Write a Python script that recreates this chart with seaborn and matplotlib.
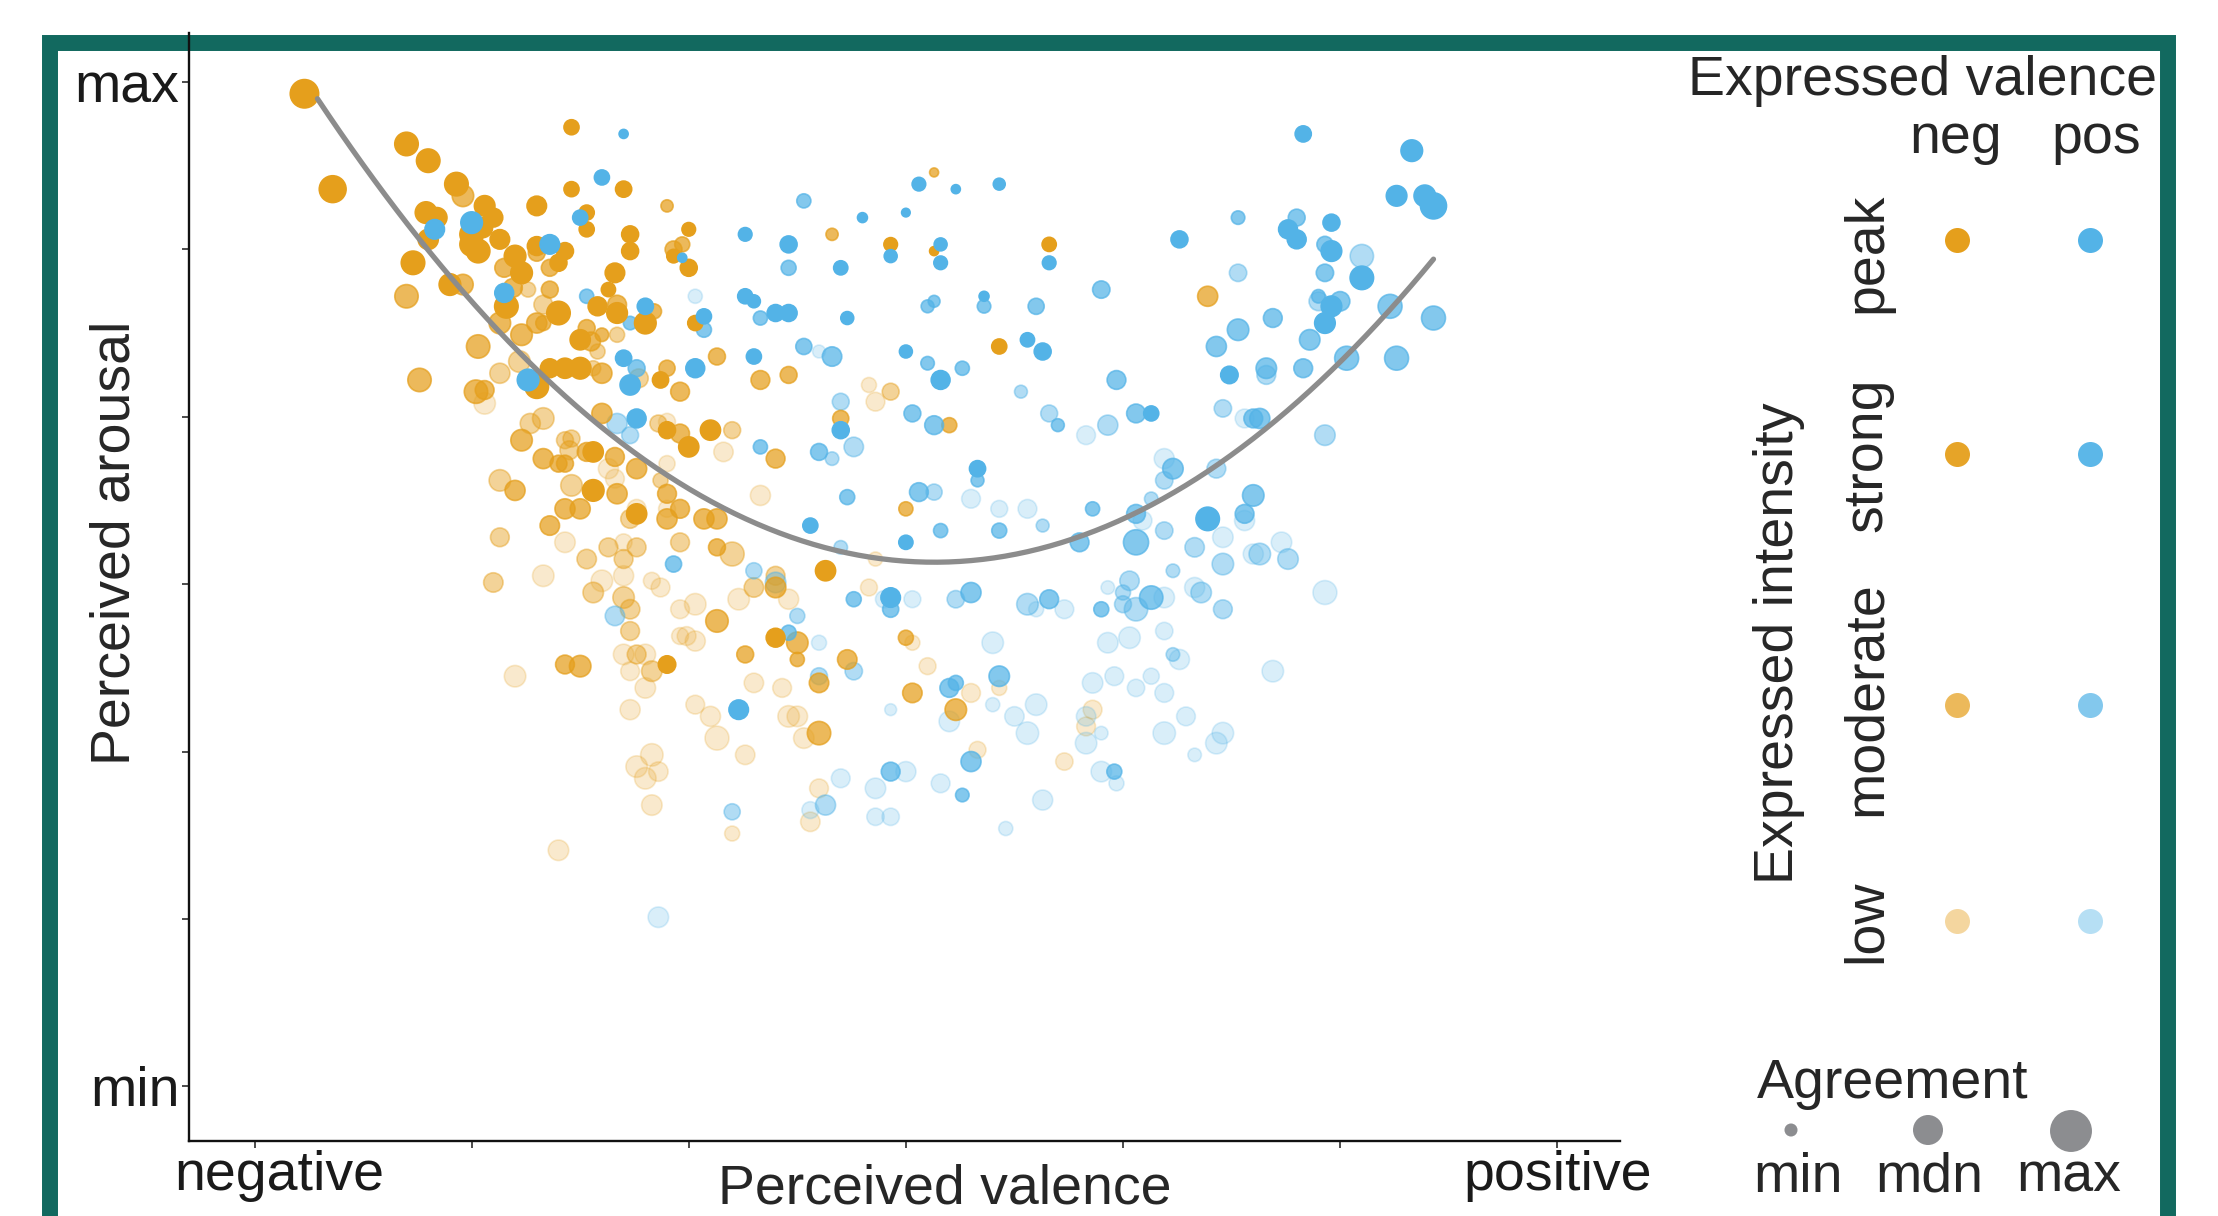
import pandas as pd
import seaborn as sns
import matplotlib.pyplot as plt
from matplotlib.patches import Rectangle
from matplotlib.transforms import ScaledTranslation

# perceived valence: 0 = negative ... 6 = positive
# perceived arousal: 0 = min ... 6 = max
# agreement: 0 = min ... 1 = max

# expressed negative, peak intensity
neg_peak_val = [0.23, 0.36, 0.70, 0.80, 0.93, 1.46, 1.46, 1.70, 1.30, 1.06,
                0.79, 0.84, 1.10, 1.53, 0.80, 1.53, 2.00, 1.00, 1.05, 1.73,
                1.13, 1.00, 1.03, 1.30, 1.43, 1.73, 1.93, 0.73, 1.20, 1.40,
                1.23, 1.66, 2.00, 0.90, 1.63, 1.16, 1.40, 1.58, 1.67, 1.80,
                2.03, 1.50, 1.36, 1.43, 1.50, 1.30, 1.87, 1.90, 2.00, 1.56,
                1.56, 2.93, 3.13, 3.66, 3.43, 2.10, 1.76, 1.90, 2.63, 2.40]
neg_peak_aro = [5.93, 5.36, 5.63, 5.53, 5.39, 5.73, 5.36, 5.36, 5.26, 5.26,
                5.22, 5.19, 5.19, 5.22, 5.06, 5.12, 5.12, 5.09, 5.13, 5.09,
                5.06, 5.03, 4.99, 5.02, 4.99, 4.99, 4.96, 4.92, 4.96, 4.92,
                4.86, 4.86, 4.89, 4.79, 4.76, 4.66, 4.62, 4.66, 4.62, 4.56,
                4.56, 4.46, 4.29, 4.29, 4.29, 4.18, 4.22, 3.92, 3.82, 3.79,
                3.56, 5.03, 4.99, 5.03, 4.42, 3.92, 3.42, 2.52, 3.08, 2.68]
neg_peak_agr = [0.90, 0.80, 0.60, 0.60, 0.60, 0.22, 0.22, 0.26, 0.40, 0.45,
                0.50, 0.43, 0.37, 0.22, 0.43, 0.22, 0.17, 0.60, 0.43, 0.29,
                0.40, 0.60, 0.60, 0.37, 0.29, 0.29, 0.17, 0.60, 0.50, 0.29,
                0.50, 0.40, 0.29, 0.50, 0.19, 0.60, 0.60, 0.37, 0.45, 0.50,
                0.22, 0.43, 0.37, 0.43, 0.50, 0.60, 0.26, 0.29, 0.43, 0.43,
                0.50, 0.17, 0.05, 0.19, 0.22, 0.43, 0.43, 0.31, 0.43, 0.37]

# expressed negative, strong intensity
neg_strong_val = [0.96, 1.90, 1.93, 1.97, 1.30, 1.36, 1.15, 0.96, 0.70, 1.19,
                  1.36, 1.67, 1.84, 1.13, 1.30, 1.33, 1.23, 1.53, 1.60, 1.55,
                  1.03, 1.60, 1.90, 1.96, 0.76, 1.02, 1.06, 1.60, 1.96, 1.23,
                  1.53, 1.66, 1.33, 1.40, 1.43, 1.76, 1.20, 1.67, 1.90, 3.13,
                  2.66, 2.13, 2.33, 2.46, 2.70, 3.20, 2.40, 4.39, 1.43, 1.50,
                  1.96, 1.90, 1.36, 1.43, 1.50, 2.07, 2.13, 3.00, 2.13, 2.40,
                  2.13, 2.50, 2.50, 2.26, 2.73, 3.00, 2.60, 3.03, 3.23, 2.60]
neg_strong_aro = [5.32, 5.26, 5.00, 5.03, 4.98, 4.89, 4.89, 4.79, 4.72, 4.77,
                  4.76, 4.67, 4.63, 4.56, 4.56, 4.56, 4.49, 4.53, 4.49, 4.45,
                  4.42, 4.26, 4.29, 4.15, 4.22, 4.15, 4.16, 4.02, 3.90, 3.86,
                  3.79, 3.76, 3.75, 3.72, 3.72, 3.69, 3.56, 3.54, 3.54, 5.46,
                  5.09, 4.36, 4.22, 4.25, 3.99, 3.95, 3.75, 4.72, 3.45, 3.45,
                  3.45, 3.39, 3.35, 2.52, 2.51, 3.39, 3.39, 3.45, 3.22, 2.98,
                  2.78, 2.65, 2.55, 2.58, 2.55, 2.68, 2.41, 2.35, 2.25, 2.11]
neg_strong_agr = [0.50, 0.13, 0.29, 0.22, 0.29, 0.29, 0.37, 0.45, 0.60, 0.37,
                  0.29, 0.37, 0.22, 0.50, 0.43, 0.22, 0.50, 0.29, 0.17, 0.37,
                  0.60, 0.43, 0.26, 0.37, 0.60, 0.60, 0.37, 0.43, 0.37, 0.50,
                  0.37, 0.37, 0.43, 0.29, 0.29, 0.43, 0.43, 0.43, 0.37, 0.05,
                  0.13, 0.29, 0.37, 0.29, 0.26, 0.22, 0.37, 0.43, 0.43, 0.43,
                  0.37, 0.43, 0.40, 0.37, 0.50, 0.43, 0.43, 0.19, 0.29, 0.45,
                  0.55, 0.50, 0.19, 0.29, 0.40, 0.22, 0.40, 0.40, 0.50, 0.60]

# expressed negative, moderate intensity
neg_moderate_val = [1.26, 1.33, 1.67, 1.58, 1.56, 1.22, 1.13, 1.77, 1.86, 1.33,
                    1.27, 1.43, 1.46, 1.45, 1.87, 1.13, 1.46, 1.73, 1.13, 1.63,
                    1.76, 1.96, 1.53, 1.70, 1.10, 1.56, 1.70, 1.73, 1.73, 1.76,
                    1.83, 2.93, 2.20, 2.20, 2.40, 2.30]
neg_moderate_aro = [4.76, 4.67, 4.49, 4.39, 4.29, 4.33, 4.26, 4.23, 3.96, 3.99,
                    3.96, 3.86, 3.87, 3.80, 3.62, 3.62, 3.59, 3.39, 3.28, 3.22,
                    3.22, 3.25, 3.15, 3.15, 3.01, 2.95, 2.92, 2.85, 2.72, 2.58,
                    2.48, 4.15, 3.92, 3.18, 3.05, 2.98]
neg_moderate_agr = [0.22, 0.37, 0.22, 0.22, 0.22, 0.50, 0.43, 0.37, 0.29, 0.50,
                    0.43, 0.29, 0.29, 0.37, 0.22, 0.50, 0.50, 0.37, 0.37, 0.37,
                    0.37, 0.37, 0.40, 0.37, 0.40, 0.45, 0.50, 0.40, 0.37, 0.37,
                    0.45, 0.29, 0.29, 0.63, 0.37, 0.40]

# expressed negative, low intensity
neg_low_val = [1.06, 1.90, 1.63, 1.90, 1.66, 2.83, 2.86, 2.16, 2.33, 1.76,
               1.90, 1.43, 1.70, 1.33, 1.60, 1.70, 1.83, 1.87, 1.96, 2.03,
               1.96, 1.99, 2.03, 1.70, 1.80, 1.73, 1.20, 1.80, 1.73, 2.03,
               1.83, 1.76, 1.86, 1.80, 1.83, 1.40, 2.86, 2.23, 2.46, 2.83,
               3.03, 3.10, 2.30, 2.43, 3.43, 3.30, 3.86, 3.83, 2.10, 2.13,
               2.46, 2.50, 2.53, 2.26, 3.33, 3.73, 2.60, 2.56, 2.20]
neg_low_aro = [4.08, 3.97, 3.69, 3.72, 3.63, 4.19, 4.09, 3.79, 3.53, 3.45,
               3.45, 3.25, 3.25, 3.05, 3.02, 3.05, 3.02, 2.98, 2.85, 2.88,
               2.69, 2.69, 2.66, 2.58, 2.58, 2.48, 2.45, 2.38, 2.25, 2.28,
               1.98, 1.91, 1.88, 1.84, 1.68, 1.41, 3.15, 2.91, 2.91, 2.98,
               2.65, 2.51, 2.41, 2.38, 2.38, 2.35, 2.25, 2.15, 2.21, 2.08,
               2.21, 2.21, 2.08, 1.98, 2.01, 1.94, 1.78, 1.58, 1.51]
neg_low_agr = [0.50, 0.29, 0.43, 0.26, 0.37, 0.22, 0.37, 0.40, 0.43, 0.37,
               0.29, 0.45, 0.29, 0.50, 0.50, 0.43, 0.29, 0.37, 0.37, 0.50,
               0.29, 0.37, 0.43, 0.45, 0.45, 0.37, 0.50, 0.45, 0.43, 0.37,
               0.55, 0.50, 0.40, 0.50, 0.45, 0.45, 0.19, 0.50, 0.43, 0.29,
               0.22, 0.29, 0.40, 0.37, 0.22, 0.37, 0.37, 0.37, 0.43, 0.63,
               0.50, 0.45, 0.45, 0.40, 0.29, 0.31, 0.37, 0.40, 0.22]

# expressed positive, peak intensity
pos_peak_val = [1.70, 1.60, 1.00, 1.50, 0.83, 1.36, 1.97, 1.15, 1.80, 1.70,
                2.03, 1.26, 1.73, 1.76, 3.06, 3.23, 3.43, 2.80, 3.00, 2.26,
                2.46, 2.93, 3.16, 3.16, 3.66, 2.70, 2.26, 2.30, 2.40, 2.46,
                2.73, 3.36, 2.07, 2.30, 3.00, 3.16, 3.56, 3.63, 2.70, 3.33,
                4.83, 5.33, 5.26, 5.39, 5.43, 4.76, 4.80, 4.96, 4.26, 4.96,
                5.10, 4.96, 4.93, 4.49, 4.13, 2.56, 3.00, 2.93, 2.23, 4.39]
pos_peak_aro = [5.69, 5.43, 5.16, 5.19, 5.12, 5.03, 4.95, 4.74, 4.66, 4.35,
                4.29, 4.22, 4.19, 3.99, 5.39, 5.36, 5.39, 5.19, 5.22, 5.09,
                5.03, 4.96, 5.03, 4.92, 4.92, 4.89, 4.72, 4.69, 4.62, 4.62,
                4.59, 4.72, 4.60, 4.36, 4.39, 4.22, 4.46, 4.39, 3.92, 3.69,
                5.69, 5.59, 5.32, 5.32, 5.26, 5.12, 5.06, 5.16, 5.06, 4.99,
                4.83, 4.66, 4.56, 4.25, 4.02, 3.35, 3.25, 2.92, 2.25, 3.39]
pos_peak_agr = [0.05, 0.22, 0.50, 0.22, 0.40, 0.40, 0.05, 0.37, 0.26, 0.26,
                0.37, 0.50, 0.43, 0.37, 0.17, 0.05, 0.12, 0.07, 0.04, 0.17,
                0.29, 0.15, 0.15, 0.17, 0.17, 0.19, 0.22, 0.15, 0.29, 0.29,
                0.15, 0.07, 0.22, 0.22, 0.15, 0.37, 0.19, 0.29, 0.29, 0.26,
                0.26, 0.50, 0.45, 0.50, 0.75, 0.37, 0.37, 0.29, 0.29, 0.45,
                0.60, 0.45, 0.45, 0.31, 0.22, 0.22, 0.19, 0.40, 0.40, 0.60]

# expressed positive, strong intensity
pos_strong_val = [1.53, 1.73, 1.76, 2.53, 2.46, 2.33, 3.10, 3.13, 3.36, 3.60,
                  3.90, 2.07, 2.53, 2.66, 3.10, 3.26, 3.97, 3.03, 3.13, 3.70,
                  2.33, 2.60, 3.33, 3.06, 2.73, 4.53, 4.80, 4.93, 4.93, 4.90,
                  5.00, 5.23, 5.43, 4.69, 4.53, 4.43, 4.86, 5.03, 5.26, 4.66,
                  4.83, 4.06, 4.60, 4.63, 4.23, 4.60, 1.93, 3.16, 3.43, 3.86,
                  3.80, 2.76, 2.93, 3.30, 3.66, 3.90, 2.46, 3.20, 3.23, 3.43,
                  3.30, 3.96, 2.93, 3.26, 4.06, 4.56, 4.06, 4.13]
pos_strong_aro = [4.72, 4.56, 4.29, 5.29, 4.89, 4.59, 4.66, 4.69, 4.66, 4.66,
                  4.76, 4.52, 4.42, 4.36, 4.32, 4.29, 4.22, 4.02, 3.95, 3.95,
                  3.82, 3.79, 3.62, 3.55, 3.52, 5.19, 5.19, 5.03, 4.86, 4.72,
                  4.69, 4.66, 4.59, 4.59, 4.52, 4.42, 4.46, 4.35, 4.35, 4.29,
                  4.29, 4.02, 3.99, 3.99, 3.69, 3.53, 3.12, 3.32, 3.32, 3.45,
                  3.25, 2.91, 2.85, 2.95, 2.91, 2.85, 2.71, 2.38, 2.41, 2.45,
                  1.94, 1.88, 1.88, 1.74, 3.42, 3.42, 3.25, 2.92]
pos_strong_agr = [0.19, 0.17, 0.29, 0.19, 0.22, 0.19, 0.15, 0.12, 0.17, 0.26,
                  0.31, 0.22, 0.26, 0.40, 0.17, 0.19, 0.37, 0.29, 0.37, 0.15,
                  0.19, 0.29, 0.15, 0.37, 0.22, 0.17, 0.29, 0.26, 0.31, 0.17,
                  0.40, 0.63, 0.63, 0.37, 0.50, 0.43, 0.45, 0.63, 0.63, 0.45,
                  0.37, 0.37, 0.37, 0.43, 0.45, 0.50, 0.26, 0.19, 0.22, 0.19,
                  0.37, 0.22, 0.26, 0.43, 0.37, 0.22, 0.22, 0.37, 0.22, 0.45,
                  0.43, 0.22, 0.37, 0.17, 0.37, 0.37, 0.70, 0.60]

# expressed positive, moderate intensity
pos_moderate_val = [1.67, 1.73, 3.53, 2.70, 3.66, 3.93, 2.66, 2.76, 3.13, 5.10,
                    4.53, 4.90, 4.66, 4.46, 4.93, 4.19, 4.43, 4.13, 1.66, 3.63,
                    2.70, 2.30, 2.40, 3.23, 3.56, 2.50, 2.76, 2.60, 2.63, 2.20,
                    4.19, 4.33, 4.46, 4.63, 4.76, 4.23, 4.03, 4.00, 4.00, 4.06,
                    4.36, 4.46, 4.23]
pos_moderate_aro = [3.96, 3.89, 4.15, 4.09, 4.02, 3.95, 3.75, 3.82, 3.55, 4.96,
                    4.86, 4.69, 4.25, 4.05, 3.89, 3.62, 3.69, 3.51, 2.81, 3.35,
                    3.22, 3.08, 3.01, 2.91, 2.88, 2.81, 2.48, 2.45, 1.68, 1.64,
                    3.32, 3.22, 3.12, 3.18, 3.15, 3.08, 3.02, 2.95, 2.88, 2.85,
                    2.95, 2.85, 2.58]
pos_moderate_agr = [0.43, 0.29, 0.15, 0.29, 0.29, 0.43, 0.17, 0.40, 0.26, 0.60,
                    0.31, 0.37, 0.37, 0.31, 0.45, 0.31, 0.37, 0.17, 0.40, 0.15,
                    0.17, 0.26, 0.45, 0.31, 0.50, 0.22, 0.31, 0.29, 0.43, 0.26,
                    0.31, 0.40, 0.50, 0.50, 0.45, 0.17, 0.40, 0.22, 0.29, 0.60,
                    0.45, 0.37, 0.17]

# expressed positive, low intensity
pos_low_val = [2.03, 2.60, 3.83, 3.30, 4.56, 4.19, 1.86, 3.43, 3.56, 2.90,
               3.03, 3.93, 3.60, 3.73, 2.60, 3.40, 3.93, 3.86, 3.96, 2.93,
               3.20, 3.40, 3.50, 3.60, 3.56, 3.83, 3.90, 3.83, 3.90, 3.97,
               2.70, 2.86, 3.00, 3.16, 3.63, 2.56, 2.86, 2.93, 3.46, 4.09,
               4.56, 4.46, 4.60, 4.73, 4.19, 4.33, 4.93, 4.03, 4.19, 4.26,
               4.69, 4.13, 4.06, 4.19, 4.29, 4.19, 4.46, 4.43, 4.33]
pos_low_aro = [4.72, 4.39, 3.89, 3.51, 3.99, 3.75, 1.01, 3.45, 3.45, 2.91,
               2.91, 2.98, 2.85, 2.85, 2.65, 2.65, 2.65, 2.41, 2.45, 2.25,
               2.18, 2.28, 2.21, 2.28, 2.11, 2.21, 2.11, 2.05, 1.88, 1.81,
               1.84, 1.78, 1.88, 1.81, 1.71, 1.65, 1.61, 1.61, 1.54, 3.38,
               3.38, 3.28, 3.18, 3.25, 2.92, 2.98, 2.95, 2.68, 2.72, 2.55,
               2.48, 2.45, 2.38, 2.35, 2.21, 2.11, 2.11, 2.05, 1.98]
pos_low_agr = [0.19, 0.15, 0.37, 0.37, 0.37, 0.43, 0.45, 0.29, 0.37, 0.31,
               0.29, 0.17, 0.22, 0.37, 0.22, 0.50, 0.45, 0.45, 0.37, 0.12,
               0.45, 0.19, 0.40, 0.50, 0.55, 0.40, 0.17, 0.50, 0.45, 0.22,
               0.37, 0.45, 0.43, 0.37, 0.43, 0.29, 0.31, 0.31, 0.19, 0.37,
               0.43, 0.45, 0.43, 0.45, 0.45, 0.43, 0.63, 0.50, 0.31, 0.43,
               0.50, 0.26, 0.31, 0.37, 0.37, 0.55, 0.50, 0.50, 0.17]

# quadratic trend at a few valence values
curve_val = [0.29, 1.00, 2.00, 3.13, 4.00, 5.00, 5.43]
curve_aro = [5.90, 4.69, 3.57, 3.13, 3.39, 4.33, 4.94]

valence_names = ["neg", "pos"]
intensity_names = ["peak", "strong", "moderate", "low"]
agreement_names = ["min", "mdn", "max"]

groups = {
    ("neg", "peak"): (neg_peak_val, neg_peak_aro, neg_peak_agr),
    ("neg", "strong"): (neg_strong_val, neg_strong_aro, neg_strong_agr),
    ("neg", "moderate"): (neg_moderate_val, neg_moderate_aro, neg_moderate_agr),
    ("neg", "low"): (neg_low_val, neg_low_aro, neg_low_agr),
    ("pos", "peak"): (pos_peak_val, pos_peak_aro, pos_peak_agr),
    ("pos", "strong"): (pos_strong_val, pos_strong_aro, pos_strong_agr),
    ("pos", "moderate"): (pos_moderate_val, pos_moderate_aro, pos_moderate_agr),
    ("pos", "low"): (pos_low_val, pos_low_aro, pos_low_agr),
}
frames = []
for (ev, ei), (v, a, g) in groups.items():
    frames.append(pd.DataFrame({"valence": v, "arousal": a, "agreement": g,
                                "expressed": ev, "intensity": ei}))
df = pd.concat(frames, ignore_index=True)

sns.set_style("ticks")
plt.rcParams["font.family"] = ["Liberation Sans", "DejaVu Sans"]

NEG = "#E59F1C"
POS = "#53B3E7"
palette = {"neg": NEG, "pos": POS}
alpha_plot = {"low": 0.22, "moderate": 0.45, "strong": 0.72, "peak": 1.0}
alpha_key = {"low": 0.42, "moderate": 0.72, "strong": 0.95, "peak": 1.0}

W, H = 2218, 1216
fig = plt.figure(figsize=(W / 100, H / 100), dpi=100)
fig.patch.set_facecolor("white")

# teal frame around the panel (bottom edge runs off the picture)
fig.add_artist(Rectangle((50 / W, -0.1), (2168 - 50) / W, 1.1 - 42.5 / H,
                         transform=fig.transFigure, fill=False,
                         edgecolor="#12695F", linewidth=11.5, zorder=-1))

ax = fig.add_axes([188.5 / W, 75 / H, (1620 - 188.5) / W, 1108 / H])
ax.set_facecolor("none")

for level in ["low", "moderate", "strong", "peak"]:
    sub = df[df["intensity"] == level]
    sns.scatterplot(data=sub, x="valence", y="arousal", hue="expressed",
                    palette=palette, size="agreement", sizes=(20, 460),
                    size_norm=(0, 1), alpha=alpha_plot[level],
                    edgecolor="face", linewidth=1.2, legend=False, ax=ax)

sns.regplot(x=curve_val, y=curve_aro, order=2, scatter=False, ci=None,
            truncate=True, color="#8C8C8C",
            line_kws={"linewidth": 3.8, "zorder": 10}, ax=ax)

ax.set_xlim(-0.304, 6.289)
ax.set_ylim(-0.327, 6.293)
ax.set_xticks(range(7))
ax.set_xticklabels(["negative", "", "", "", "", "", "positive"])
ax.set_yticks(range(7))
ax.set_yticklabels(["min", "", "", "", "", "", "max"])
ax.set_xlabel("")
ax.set_ylabel("")
sns.despine(ax=ax)
for side in ["left", "bottom"]:
    ax.spines[side].set_linewidth(1.7)
    ax.spines[side].set_color("#111111")
ax.tick_params(length=5, width=1.1, pad=1.5, labelsize=40, colors="#1a1a1a")

# "negative" sits a little right of its tick in the original
neg_label = ax.get_xticklabels()[0]
neg_label.set_transform(neg_label.get_transform()
                        + ScaledTranslation(0.25, 0, fig.dpi_scale_trans))

# overlay in figure pixels for titles and the hand-built legend
lg = fig.add_axes([0, 0, 1, 1])
lg.set_xlim(0, W)
lg.set_ylim(H, 0)
lg.axis("off")

lg.text(945, 1203, "Perceived valence", ha="center", va="baseline", fontsize=40)
lg.text(130, 543, "Perceived arousal", rotation=90, rotation_mode="anchor",
        ha="center", va="baseline", fontsize=40)

# colour key
key_x = [1957, 2090]
key_y = [240, 454, 705, 921]
label_y = [253, 455, 699, 921]
lg.text(2157, 95, "Expressed valence", ha="right", va="baseline", fontsize=40)
for name, x, tx in zip(valence_names, key_x, [1956, 2096]):
    lg.text(tx, 153, name, ha="center", va="baseline", fontsize=40)
lg.text(1793, 643, "Expressed intensity", rotation=90, rotation_mode="anchor",
        ha="center", va="baseline", fontsize=40)
for name, y, ty in zip(intensity_names, key_y, label_y):
    lg.text(1881, ty, name, rotation=90, rotation_mode="anchor",
            ha="center", va="baseline", fontsize=40)
    for vname, x in zip(valence_names, key_x):
        lg.scatter([x], [y], s=324, color=palette[vname],
                   alpha=alpha_key[name], linewidths=0)

# agreement key
lg.text(1757, 1098, "Agreement", ha="left", va="baseline", fontsize=40)
lg.scatter([1791, 1928, 2071], [1130, 1130, 1131], s=[88, 467, 912],
           color="#8C8D90", linewidths=0)
for name, x in zip(agreement_names, [1798, 1929, 2069]):
    lg.text(x, 1192, name, ha="center", va="baseline", fontsize=40)

fig.savefig("out.png", dpi=100)
